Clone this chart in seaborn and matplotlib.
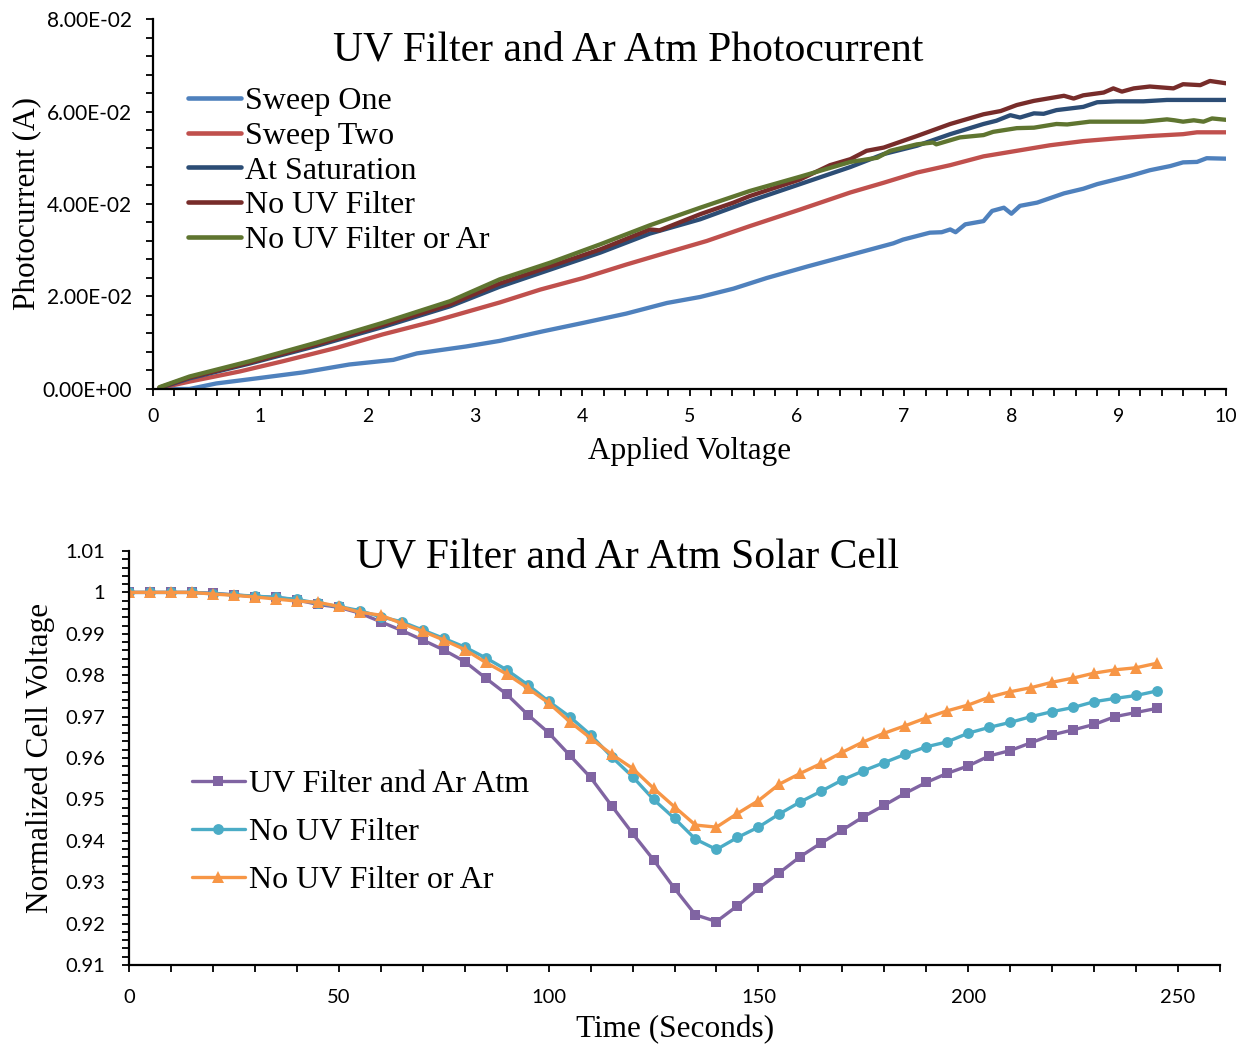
import matplotlib
matplotlib.use("Agg")
import matplotlib.pyplot as plt
import matplotlib.ticker as mticker
import seaborn as sns
import numpy as np

# ---------------- Top chart data (Photocurrent vs Applied Voltage) ----------------
sweep_one_v = [0.06, 0.34, 0.59, 1.0, 1.4, 1.83, 2.24, 2.46, 2.92, 3.23, 3.64, 4.01, 4.41, 4.79, 5.1,
               5.41, 5.72, 6.1, 6.5, 6.9, 6.99, 7.24, 7.35, 7.43, 7.48, 7.57, 7.74, 7.82, 7.93, 8.0,
               8.08, 8.24, 8.49, 8.67, 8.8, 9.11, 9.29, 9.48, 9.6, 9.73, 9.82, 10.0]
sweep_one_i = [0.0, 0.0, 0.0012, 0.0024, 0.0036, 0.0053, 0.0063, 0.0077, 0.0092, 0.0104, 0.0125, 0.0143,
               0.0163, 0.0186, 0.0199, 0.0217, 0.0240, 0.0265, 0.0290, 0.0315, 0.0323, 0.0338, 0.0339,
               0.0345, 0.0339, 0.0356, 0.0363, 0.0385, 0.0392, 0.0379, 0.0396, 0.0403, 0.0423, 0.0433,
               0.0443, 0.0461, 0.0473, 0.0482, 0.0490, 0.0491, 0.0499, 0.0498]

sweep_two_v = [0.06, 0.34, 0.81, 1.21, 1.71, 2.14, 2.61, 3.23, 3.61, 4.01, 4.41, 4.79, 5.16, 5.56, 6.03,
               6.5, 6.81, 7.12, 7.43, 7.74, 8.05, 8.36, 8.67, 8.98, 9.29, 9.6, 9.73, 10.0]
sweep_two_i = [0.0002, 0.0016, 0.0038, 0.0060, 0.0089, 0.0118, 0.0146, 0.0187, 0.0215, 0.0240, 0.0269,
               0.0295, 0.0320, 0.0352, 0.0388, 0.0425, 0.0446, 0.0468, 0.0484, 0.0503, 0.0515, 0.0527,
               0.0536, 0.0542, 0.0547, 0.0551, 0.0555, 0.0555]

sat_v = [0.06, 0.34, 0.9, 1.52, 2.14, 2.77, 3.23, 3.7, 4.17, 4.63, 5.1, 5.56, 6.03, 6.5, 6.81, 7.12,
         7.43, 7.74, 7.86, 7.99, 8.08, 8.21, 8.3, 8.42, 8.67, 8.8, 8.98, 9.23, 9.45, 10.0]
sat_i = [0.0002, 0.0023, 0.0055, 0.0093, 0.0134, 0.0179, 0.0221, 0.0258, 0.0295, 0.0336, 0.0367,
         0.0406, 0.0443, 0.0480, 0.0508, 0.0526, 0.0551, 0.0573, 0.0580, 0.0592, 0.0587, 0.0596,
         0.0595, 0.0603, 0.0610, 0.0620, 0.0622, 0.0622, 0.0625, 0.0625]

nouv_v = [0.06, 0.34, 0.9, 1.52, 2.14, 2.77, 3.23, 3.7, 4.17, 4.63, 4.72, 5.1, 5.41, 5.56, 6.03, 6.31,
          6.5, 6.65, 6.81, 7.12, 7.43, 7.74, 7.9, 8.05, 8.21, 8.49, 8.58, 8.67, 8.86, 8.95, 9.03, 9.14,
          9.29, 9.51, 9.6, 9.76, 9.85, 10.0]
nouv_i = [0.0003, 0.0025, 0.0057, 0.0096, 0.0138, 0.0183, 0.0228, 0.0265, 0.0302, 0.0345, 0.0343,
          0.0378, 0.0403, 0.0417, 0.0453, 0.0484, 0.0497, 0.0515, 0.0522, 0.0547, 0.0573, 0.0594,
          0.0601, 0.0614, 0.0623, 0.0634, 0.0628, 0.0635, 0.0641, 0.0650, 0.0643, 0.0650, 0.0654,
          0.0650, 0.0659, 0.0657, 0.0666, 0.0661]

nouvar_v = [0.06, 0.34, 0.9, 1.52, 2.14, 2.77, 3.23, 3.7, 4.17, 4.63, 5.1, 5.56, 6.03, 6.5, 6.75, 6.87,
            7.12, 7.27, 7.3, 7.52, 7.74, 7.83, 8.05, 8.21, 8.42, 8.52, 8.73, 8.98, 9.23, 9.45, 9.52,
            9.6, 9.7, 9.79, 9.87, 10.0]
nouvar_i = [0.0004, 0.0027, 0.0060, 0.0100, 0.0143, 0.0190, 0.0237, 0.0273, 0.0313, 0.0354, 0.0392,
            0.0428, 0.0459, 0.0491, 0.0500, 0.0515, 0.0529, 0.0533, 0.0529, 0.0544, 0.0549, 0.0556,
            0.0564, 0.0565, 0.0573, 0.0572, 0.0578, 0.0578, 0.0578, 0.0583, 0.0581, 0.0578, 0.0581,
            0.0578, 0.0585, 0.0582]

top_labels = ["Sweep One", "Sweep Two", "At Saturation", "No UV Filter", "No UV Filter or Ar"]
top_colors = ["#4F81BD", "#C0504D", "#2C4D75", "#772C2A", "#5F7530"]

# ---------------- Bottom chart data (Normalized cell voltage vs time) ----------------
time_s = [0, 5, 10, 15, 20, 25, 30, 35, 40, 45, 50, 55, 60, 65, 70, 75, 80, 85, 90, 95, 100, 105,
          110, 115, 120, 125, 130, 135, 140, 145, 150, 155, 160, 165, 170, 175, 180, 185, 190, 195,
          200, 205, 210, 215, 220, 225, 230, 235, 240, 245]
uv_filter_ar = [1.0, 1.0, 1.0, 1.0, 0.9998, 0.9994, 0.9990, 0.9988, 0.9982, 0.9971, 0.9964, 0.9950,
                0.9929, 0.9908, 0.9885, 0.9861, 0.9833, 0.9793, 0.9754, 0.9705, 0.9661, 0.9607,
                0.9553, 0.9485, 0.9418, 0.9354, 0.9285, 0.9221, 0.9205, 0.9243, 0.9285, 0.9323,
                0.9362, 0.9395, 0.9426, 0.9458, 0.9486, 0.9515, 0.9541, 0.9563, 0.9581, 0.9605,
                0.9618, 0.9637, 0.9656, 0.9668, 0.9681, 0.9700, 0.9710, 0.9720]
no_uv = [1.0, 1.0, 1.0, 1.0, 0.9997, 0.9994, 0.9991, 0.9988, 0.9983, 0.9974, 0.9966, 0.9956,
         0.9941, 0.9929, 0.9909, 0.9889, 0.9868, 0.9842, 0.9813, 0.9777, 0.9737, 0.9700, 0.9656,
         0.9603, 0.9555, 0.9500, 0.9454, 0.9404, 0.9379, 0.9408, 0.9433, 0.9465, 0.9494, 0.9520,
         0.9547, 0.9569, 0.9589, 0.9609, 0.9627, 0.9639, 0.9660, 0.9674, 0.9686, 0.9700, 0.9712,
         0.9722, 0.9736, 0.9744, 0.9751, 0.9762]
no_uv_ar = [1.0, 1.0, 1.0, 1.0, 0.9996, 0.9993, 0.9989, 0.9984, 0.9979, 0.9976, 0.9966, 0.9952,
            0.9945, 0.9925, 0.9906, 0.9885, 0.9862, 0.9831, 0.9803, 0.9769, 0.9733, 0.9688, 0.9648,
            0.9609, 0.9575, 0.9527, 0.9482, 0.9438, 0.9433, 0.9466, 0.9497, 0.9537, 0.9563, 0.9587,
            0.9614, 0.9639, 0.9660, 0.9678, 0.9697, 0.9714, 0.9728, 0.9747, 0.9760, 0.9770, 0.9783,
            0.9793, 0.9805, 0.9813, 0.9818, 0.9829]
bottom_labels = ["UV Filter and Ar Atm", "No UV Filter", "No UV Filter or Ar"]
bottom_colors = ["#8064A2", "#4BACC6", "#F79646"]
bottom_markers = ["s", "o", "^"]

# ---------------- Styling ----------------
sns.set_theme(style="ticks")
plt.rcParams["font.family"] = ["Liberation Serif", "DejaVu Serif"]
plt.rcParams["text.color"] = "black"
plt.rcParams["axes.labelcolor"] = "black"
plt.rcParams["axes.linewidth"] = 1.6
for k in ["xtick.major.width", "ytick.major.width", "xtick.minor.width", "ytick.minor.width"]:
    plt.rcParams[k] = 1.3
plt.rcParams["xtick.color"] = "black"
plt.rcParams["ytick.color"] = "black"
plt.rcParams["xtick.labelcolor"] = "black"
plt.rcParams["ytick.labelcolor"] = "black"
plt.rcParams["axes.edgecolor"] = "black"

W, H = 1247, 1044
fig = plt.figure(figsize=(W / 100, H / 100), dpi=100)
fig.patch.set_facecolor("white")

tick_family = ["Lato", "DejaVu Sans"]
serif = ["Liberation Serif", "DejaVu Serif"]

# ---------- Top axes ----------
ax1 = fig.add_axes([153 / W, 1 - 389 / H, (1226 - 153) / W, 370 / H])
top_series = [(sweep_one_v, sweep_one_i), (sweep_two_v, sweep_two_i), (sat_v, sat_i),
              (nouv_v, nouv_i), (nouvar_v, nouvar_i)]
for (xv, yv), lab, col in zip(top_series, top_labels, top_colors):
    sns.lineplot(x=xv, y=yv, ax=ax1, color=col, linewidth=3.1, label=lab, sort=False,
                 solid_capstyle="round", estimator=None)

ax1.set_xlim(0, 10)
ax1.set_ylim(0, 0.08)
ax1.xaxis.set_major_locator(mticker.MultipleLocator(1))
ax1.xaxis.set_minor_locator(mticker.MultipleLocator(0.2))
ax1.yaxis.set_major_locator(mticker.MultipleLocator(0.02))
ax1.yaxis.set_minor_locator(mticker.MultipleLocator(0.004))
ax1.yaxis.set_major_formatter(mticker.FuncFormatter(lambda v, p: f"{v:.2E}"))
ax1.xaxis.set_major_formatter(mticker.FuncFormatter(lambda v, p: f"{v:g}"))
ax1.tick_params(axis="both", which="both", direction="out", length=5, colors="black")
ax1.tick_params(axis="x", which="major", pad=9)
ax1.tick_params(axis="y", which="major", pad=10)
for lbl in ax1.get_xticklabels():
    lbl.set_fontfamily(tick_family)
    lbl.set_fontsize(14)
for lbl in ax1.get_yticklabels():
    lbl.set_fontfamily(tick_family)
    lbl.set_fontsize(15)
sns.despine(ax=ax1)
ax1.set_xlabel("Applied Voltage", fontsize=22.5, family=serif, va="center")
ax1.xaxis.set_label_coords(0.5, -0.168)
ax1.set_ylabel("Photocurrent (A)", fontsize=22.5, family=serif, va="center")
ax1.yaxis.set_label_coords(-0.118, 0.5)
ax1.set_facecolor("white")

leg1 = ax1.legend(loc="upper left", bbox_to_anchor=(188 / W, 1 - 87 / H),
                  bbox_transform=fig.transFigure, frameon=False, borderpad=0,
                  borderaxespad=0, handlelength=1.65, handletextpad=0.12,
                  labelspacing=0.165, prop=dict(family=serif, size=23))
for ln in leg1.get_lines():
    ln.set_linewidth(3.3)

fig.text(628 / W, 1 - 50 / H, "UV Filter and Ar Atm Photocurrent", ha="center", va="center",
         fontsize=30, family=serif)

# ---------- Bottom axes ----------
ax2 = fig.add_axes([129 / W, 1 - 965 / H, (1220 - 129) / W, 414 / H])
for yv, lab, col, mk in zip([uv_filter_ar, no_uv, no_uv_ar], bottom_labels, bottom_colors,
                            bottom_markers):
    ms = 9 if mk == "^" else 7.8
    sns.lineplot(x=time_s, y=yv, ax=ax2, color=col, linewidth=2.4, marker=mk,
                 markersize=ms, markeredgewidth=0, label=lab, sort=False, estimator=None)

ax2.set_xlim(0, 260)
ax2.set_ylim(0.91, 1.01)
ax2.xaxis.set_major_locator(mticker.MultipleLocator(50))
ax2.xaxis.set_minor_locator(mticker.MultipleLocator(10))
ax2.yaxis.set_major_locator(mticker.MultipleLocator(0.01))
ax2.yaxis.set_minor_locator(mticker.MultipleLocator(0.002))
ax2.yaxis.set_major_formatter(mticker.FuncFormatter(lambda v, p: f"{round(v, 4):g}"))
ax2.xaxis.set_major_formatter(mticker.FuncFormatter(lambda v, p: f"{v:g}"))
ax2.tick_params(axis="both", which="both", direction="out", length=5, colors="black")
ax2.tick_params(axis="x", which="major", pad=12)
ax2.tick_params(axis="y", which="major", pad=12)
for lbl in ax2.get_xticklabels() + ax2.get_yticklabels():
    lbl.set_fontfamily(tick_family)
    lbl.set_fontsize(14.5)
sns.despine(ax=ax2)
ax2.set_xlabel("Time (Seconds)", fontsize=22.5, family=serif, va="center")
ax2.xaxis.set_label_coords(0.5005, -0.155)
ax2.set_ylabel("Normalized Cell Voltage", fontsize=22.5, family=serif, va="center")
ax2.yaxis.set_label_coords(-0.0816, 0.5)
ax2.set_facecolor("white")

leg2 = ax2.legend(loc="upper left", bbox_to_anchor=(192 / W, 1 - 770 / H),
                  bbox_transform=fig.transFigure, frameon=False, borderpad=0,
                  borderaxespad=0, handlelength=1.65, handletextpad=0.12,
                  labelspacing=0.58, prop=dict(family=serif, size=23))

fig.text(628 / W, 1 - 557 / H, "UV Filter and Ar Atm Solar Cell", ha="center", va="center",
         fontsize=30, family=serif)

fig.savefig("out.png", dpi=100, facecolor="white")
